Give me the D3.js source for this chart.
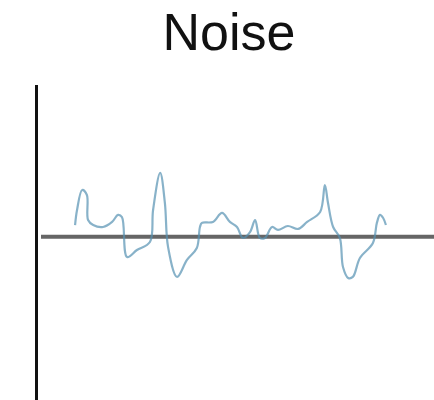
<!DOCTYPE html>
<html><head><meta charset="utf-8">
<script src="https://cdn.jsdelivr.net/npm/d3@7"></script>
<style>html,body{margin:0;padding:0;background:#fff;}</style>
</head><body>
<svg id="c" width="434" height="400"></svg>
<script>
const title = "Noise";
const times = [8.9,9.4,10.7,11.9,12.2,13.5,16.0,18.3,19.8,20.8,22.1,24.6,27.9,28.7,30.5,31.7,32.5,34.8,37.3,39.8,40.6,41.1,43.9,46.2,48.2,50.0,51.5,53.3,54.6,55.8,57.1,58.9,60.4,62.9,65.5,67.8,71.1,72.3,73.1,74.4,76.1,76.9,78.2,79.4,81.2,84.5,85.5,86.3,87.1,87.8];
const values = [0.072,0.164,0.287,0.256,0.103,0.072,0.060,0.091,0.134,0.121,-0.124,-0.081,-0.032,0.164,0.391,0.207,-0.062,-0.246,-0.142,-0.069,0.060,0.085,0.091,0.146,0.091,0.060,-0.007,0.029,0.103,-0.007,-0.007,0.060,0.042,0.066,0.048,0.091,0.152,0.317,0.207,0.060,-0.007,-0.185,-0.252,-0.246,-0.130,-0.038,0.085,0.134,0.115,0.072];

const svg = d3.select("#c");
const x = d3.scaleLinear().domain([0,100]).range([40,434]);
const y = d3.scaleLinear().domain([-1,0.93]).range([400,85]);

svg.append("text").attr("x",229).attr("y",50).attr("text-anchor","middle")
  .attr("font-family","Liberation Sans, Arial, sans-serif").attr("font-size",52)
  .attr("fill","#111").text(title);

// vertical axis
svg.append("line").attr("x1",36.5).attr("x2",36.5).attr("y1",y(0.93)).attr("y2",y(-1))
  .attr("stroke","#111").attr("stroke-width",3);

// zero line
svg.append("line").attr("x1",x(0)+1).attr("x2",434).attr("y1",y(0)).attr("y2",y(0))
  .attr("stroke","#666").attr("stroke-width",4);

const data = times.map((t,i)=>({t, v: values[i]}));
const line = d3.line().x(d=>x(d.t)).y(d=>y(d.v)).curve(d3.curveCatmullRom.alpha(0.5));
svg.append("path").datum(data).attr("d",line).attr("fill","none")
  .attr("stroke","#5592b2").attr("stroke-opacity",0.7).attr("stroke-width",2.2)
  .attr("stroke-linejoin","round");
</script>
</body></html>
